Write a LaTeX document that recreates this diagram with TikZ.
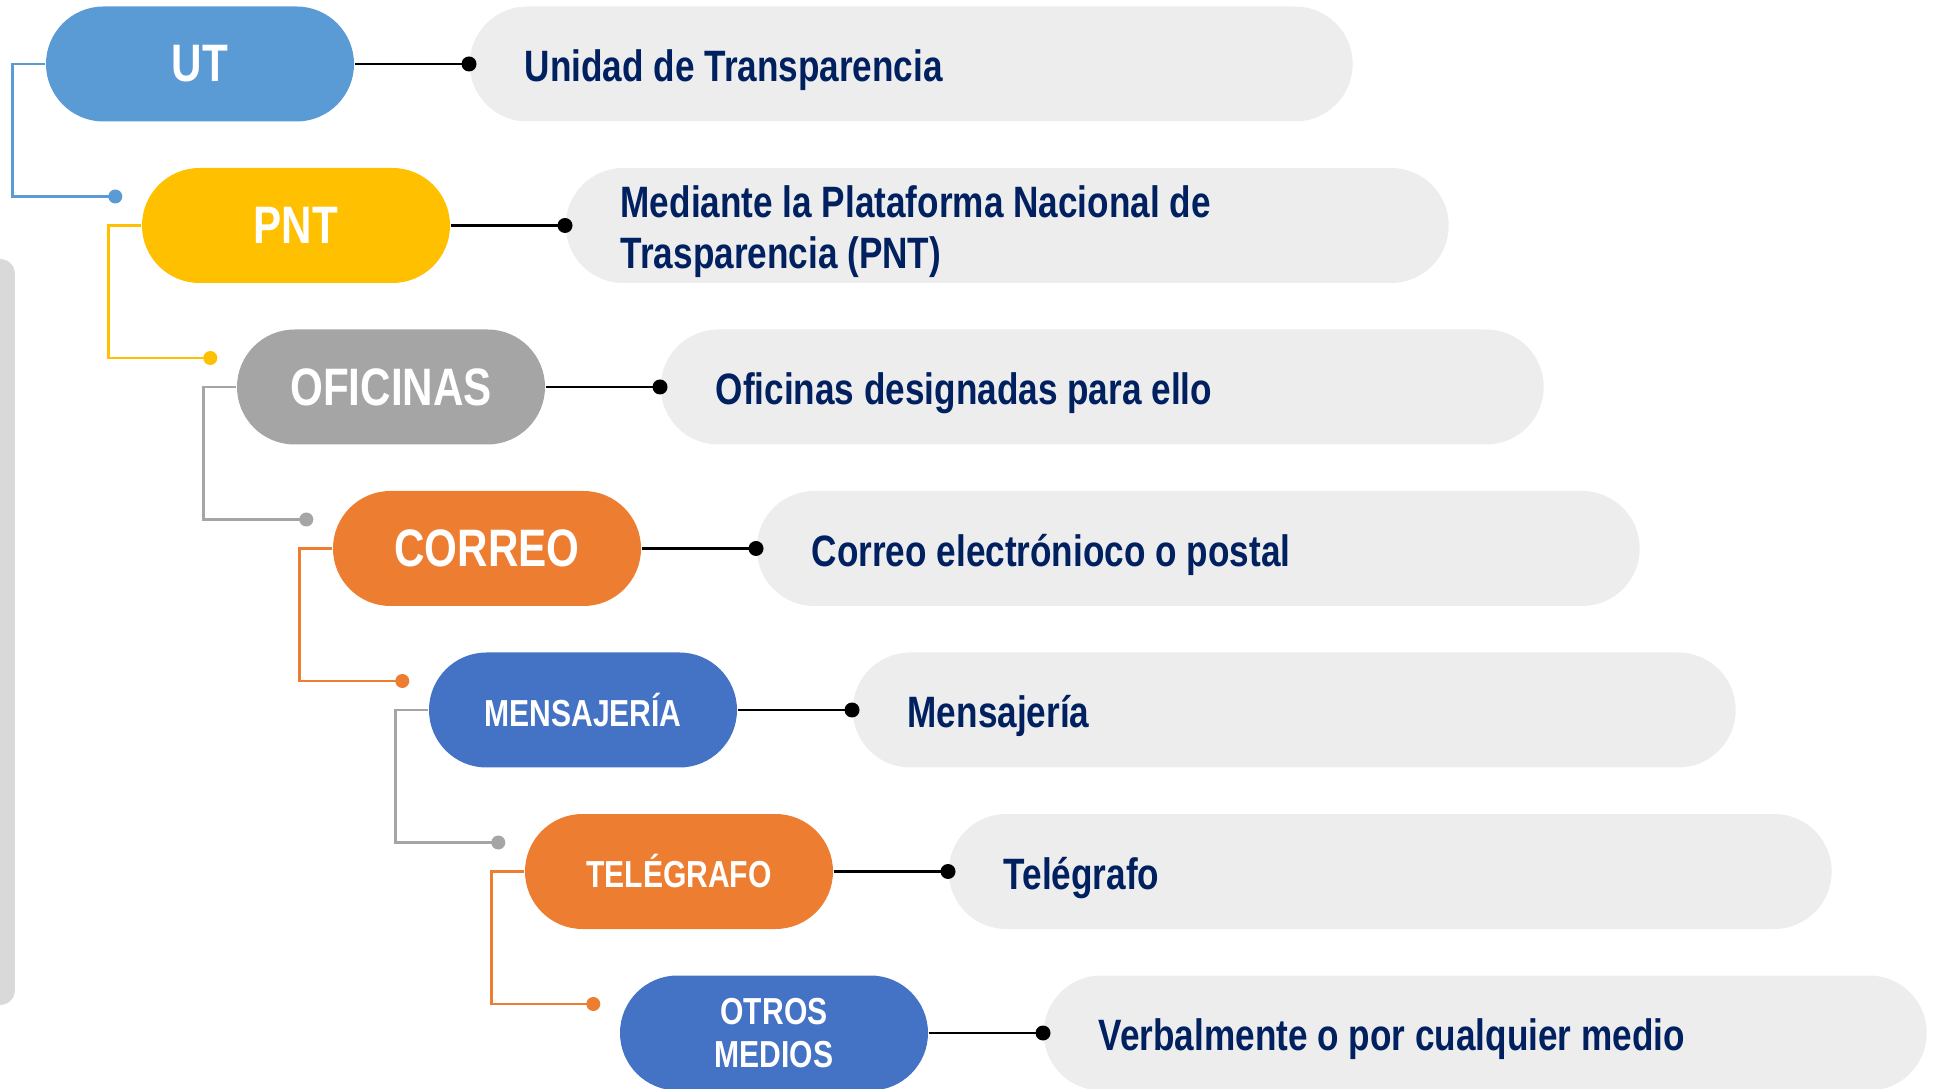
\documentclass[tikz,border=0pt]{standalone}
\usepackage{fontspec}
\newfontfamily\narrowsans{Liberation Sans}[FakeStretch=0.8]
\newfontfamily\infosans{Liberation Sans}[FakeStretch=0.8]
\usetikzlibrary{calc}
\definecolor{utblue}{HTML}{5B9BD5}
\definecolor{pntyellow}{HTML}{FFC000}
\definecolor{ofigray}{HTML}{A5A5A5}
\definecolor{corange}{HTML}{ED7D31}
\definecolor{mblue}{HTML}{4472C4}
\definecolor{boxgray}{HTML}{EDEDED}
\definecolor{bargray}{HTML}{D9D9D9}
\definecolor{navy}{HTML}{002060}
\newcommand\infofont{\infosans\bfseries\fontsize{12.5}{14.5}\selectfont}
\newcommand\infotop{\spaceskip=2.8pt\xspaceskip=2.8pt\relax\vrule width 0pt height 0.474cm depth 0pt\relax}
\newcommand\infobot{\vrule width 0pt height 0pt depth 0.12cm\relax}
\tikzset{
	pill/.style={rectangle, fill=#1, rounded corners=0.575cm, minimum width=3.08cm, minimum height=1.15cm, inner sep=0pt, text=white, align=center, font=\narrowsans\bfseries\fontsize{15}{17}\selectfont},
	smallpill/.style={pill=#1, font=\narrowsans\bfseries\fontsize{10.7}{12.3}\selectfont},
	infobox/.style={rectangle, fill=boxgray, rounded corners=0.575cm, anchor=west, minimum height=1.15cm, text width=7.73cm, inner xsep=0.55cm, inner ysep=0pt, align=left, text=navy, font=\infofont,
		execute at begin node=\infotop, execute at end node=\infobot},
	link/.style={line width=0.8pt},
	tree/.style={line width=0.7pt, draw=#1},
}

\begin{document}
\begin{tikzpicture}
		%%%%% START %%%%%
		\useasboundingbox (0,0) rectangle (19.34,10.88);
		
		\fill[bargray, rounded corners=0.15cm] (-0.3,0.83) rectangle (0.15,8.29);
		
		\node[pill=utblue] (ut) at (2.00,10.24) {UT};
		\node[infobox] (utinfo) at (4.69,10.24) {Unidad de Transparencia};
		
		\node[pill=pntyellow] (pnt) at (2.96,8.625) {PNT};
		\node[infobox] (pntinfo) at (5.65,8.625) {Mediante la Plataforma Nacional de\\Trasparencia (PNT)};
		
		\node[pill=ofigray] (ofi) at (3.91,7.01) {OFICINAS};
		\node[infobox] (ofiinfo) at (6.60,7.01) {Oficinas designadas para ello};
		
		\node[pill=corange] (correo) at (4.87,5.395) {CORREO};
		\node[infobox] (correoinfo) at (7.56,5.395) {Correo electrónioco o postal};
		
		\node[smallpill=mblue] (mens) at (5.83,3.78) {MENSAJERÍA};
		\node[infobox] (mensinfo) at (8.52,3.78) {Mensajería};
		
		\node[smallpill=corange] (tel) at (6.79,2.165) {TELÉGRAFO};
		\node[infobox] (telinfo) at (9.48,2.165) {Telégrafo};
		
		\node[smallpill=mblue] (otros) at (7.74,0.55) {OTROS\\MEDIOS};
		\node[infobox] (otrosinfo) at (10.43,0.55) {Verbalmente o por cualquier medio};
		
		% black links to the grey boxes
		\draw[link] (ut) -- (utinfo.west);
		\draw[link] (pnt) -- (pntinfo.west);
		\draw[link] (ofi) -- (ofiinfo.west);
		\draw[link] (correo) -- (correoinfo.west);
		\draw[link] (mens) -- (mensinfo.west);
		\draw[link] (tel) -- (telinfo.west);
		\draw[link] (otros) -- (otrosinfo.west);
		\foreach \n in {utinfo,pntinfo,ofiinfo,correoinfo,mensinfo,telinfo,otrosinfo}
			\fill (\n.west) circle (0.075);
		
		% step connectors
		\coordinate (pntdot) at ($(pnt.west)+(-0.26,0.29)$);
		\coordinate (ofidot) at ($(ofi.west)+(-0.26,0.29)$);
		\coordinate (correodot) at ($(correo.west)+(-0.26,0.29)$);
		\coordinate (mensdot) at ($(mens.west)+(-0.26,0.29)$);
		\coordinate (teldot) at ($(tel.west)+(-0.26,0.29)$);
		\coordinate (otrosdot) at ($(otros.west)+(-0.26,0.29)$);
		
		\draw[tree=utblue] (ut.west) -- ++(-0.33,0) |- (pntdot);
		\fill[utblue] (pntdot) circle (0.07);
		\draw[tree=pntyellow] (pnt.west) -- ++(-0.33,0) |- (ofidot);
		\fill[pntyellow] (ofidot) circle (0.07);
		\draw[tree=ofigray] (ofi.west) -- ++(-0.33,0) |- (correodot);
		\fill[ofigray] (correodot) circle (0.07);
		\draw[tree=corange] (correo.west) -- ++(-0.33,0) |- (mensdot);
		\fill[corange] (mensdot) circle (0.07);
		\draw[tree=ofigray] (mens.west) -- ++(-0.33,0) |- (teldot);
		\fill[ofigray] (teldot) circle (0.07);
		\draw[tree=corange] (tel.west) -- ++(-0.33,0) |- (otrosdot);
		\fill[corange] (otrosdot) circle (0.07);
		
		%%%%% END %%%%%
\end{tikzpicture}
\end{document}
